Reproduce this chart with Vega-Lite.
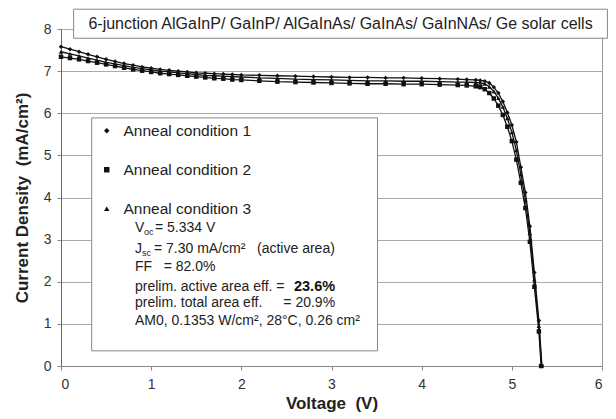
{
  "$schema": "https://vega.github.io/schema/vega-lite/v6.json",
  "width": 541,
  "height": 337,
  "autosize": {"type": "none"},
  "padding": {"left": 61, "top": 29, "right": 14, "bottom": 53},
  "background": "white",
  "config": {
    "view": {"stroke": "#999", "strokeWidth": 1},
    "font": "Liberation Sans",
    "axis": {
      "labelFont": "Liberation Sans",
      "labelFontSize": 14,
      "labelColor": "#333",
      "titleFont": "Liberation Sans",
      "titleFontSize": 17,
      "titleFontWeight": "bold",
      "titleColor": "#222",
      "domainColor": "#888",
      "tickColor": "#888",
      "tickSize": 4,
      "gridColor": "#aaa",
      "gridWidth": 1
    },
    "legend": {
      "labelFont": "Liberation Sans",
      "labelFontSize": 15.5,
      "labelColor": "#222"
    }
  },
  "datasets": {
    "iv": [
      {"c": "Anneal condition 1", "v": 0, "j": 7.58},
      {"c": "Anneal condition 1", "v": 0.1, "j": 7.52},
      {"c": "Anneal condition 1", "v": 0.2, "j": 7.46},
      {"c": "Anneal condition 1", "v": 0.3, "j": 7.40},
      {"c": "Anneal condition 1", "v": 0.4, "j": 7.34},
      {"c": "Anneal condition 1", "v": 0.5, "j": 7.28},
      {"c": "Anneal condition 1", "v": 0.6, "j": 7.23},
      {"c": "Anneal condition 1", "v": 0.7, "j": 7.18},
      {"c": "Anneal condition 1", "v": 0.8, "j": 7.14},
      {"c": "Anneal condition 1", "v": 0.9, "j": 7.10},
      {"c": "Anneal condition 1", "v": 1.0, "j": 7.07},
      {"c": "Anneal condition 1", "v": 1.1, "j": 7.04},
      {"c": "Anneal condition 1", "v": 1.2, "j": 7.02},
      {"c": "Anneal condition 1", "v": 1.3, "j": 7.00},
      {"c": "Anneal condition 1", "v": 1.4, "j": 6.98},
      {"c": "Anneal condition 1", "v": 1.5, "j": 6.96},
      {"c": "Anneal condition 1", "v": 1.6, "j": 6.95},
      {"c": "Anneal condition 1", "v": 1.7, "j": 6.94},
      {"c": "Anneal condition 1", "v": 1.8, "j": 6.93},
      {"c": "Anneal condition 1", "v": 1.9, "j": 6.92},
      {"c": "Anneal condition 1", "v": 2.0, "j": 6.91},
      {"c": "Anneal condition 1", "v": 2.2, "j": 6.90},
      {"c": "Anneal condition 1", "v": 2.4, "j": 6.89},
      {"c": "Anneal condition 1", "v": 2.6, "j": 6.88},
      {"c": "Anneal condition 1", "v": 2.8, "j": 6.87},
      {"c": "Anneal condition 1", "v": 3.0, "j": 6.86},
      {"c": "Anneal condition 1", "v": 3.2, "j": 6.85},
      {"c": "Anneal condition 1", "v": 3.4, "j": 6.85},
      {"c": "Anneal condition 1", "v": 3.6, "j": 6.84},
      {"c": "Anneal condition 1", "v": 3.8, "j": 6.84},
      {"c": "Anneal condition 1", "v": 4.0, "j": 6.83},
      {"c": "Anneal condition 1", "v": 4.2, "j": 6.82},
      {"c": "Anneal condition 1", "v": 4.4, "j": 6.81},
      {"c": "Anneal condition 1", "v": 4.5, "j": 6.80},
      {"c": "Anneal condition 1", "v": 4.6, "j": 6.79},
      {"c": "Anneal condition 1", "v": 4.65, "j": 6.78},
      {"c": "Anneal condition 1", "v": 4.7, "j": 6.76},
      {"c": "Anneal condition 1", "v": 4.75, "j": 6.72},
      {"c": "Anneal condition 1", "v": 4.8, "j": 6.62},
      {"c": "Anneal condition 1", "v": 4.85, "j": 6.48},
      {"c": "Anneal condition 1", "v": 4.9, "j": 6.28},
      {"c": "Anneal condition 1", "v": 4.95, "j": 6.02},
      {"c": "Anneal condition 1", "v": 5.0, "j": 5.72},
      {"c": "Anneal condition 1", "v": 5.05, "j": 5.32},
      {"c": "Anneal condition 1", "v": 5.1, "j": 4.72},
      {"c": "Anneal condition 1", "v": 5.15, "j": 4.12},
      {"c": "Anneal condition 1", "v": 5.2, "j": 3.32},
      {"c": "Anneal condition 1", "v": 5.25, "j": 2.22},
      {"c": "Anneal condition 1", "v": 5.3, "j": 1.08},
      {"c": "Anneal condition 1", "v": 5.334, "j": 0},
      {"c": "Anneal condition 2", "v": 0, "j": 7.34},
      {"c": "Anneal condition 2", "v": 0.1, "j": 7.31},
      {"c": "Anneal condition 2", "v": 0.2, "j": 7.28},
      {"c": "Anneal condition 2", "v": 0.3, "j": 7.24},
      {"c": "Anneal condition 2", "v": 0.4, "j": 7.20},
      {"c": "Anneal condition 2", "v": 0.5, "j": 7.16},
      {"c": "Anneal condition 2", "v": 0.6, "j": 7.12},
      {"c": "Anneal condition 2", "v": 0.7, "j": 7.08},
      {"c": "Anneal condition 2", "v": 0.8, "j": 7.04},
      {"c": "Anneal condition 2", "v": 0.9, "j": 7.01},
      {"c": "Anneal condition 2", "v": 1.0, "j": 6.98},
      {"c": "Anneal condition 2", "v": 1.1, "j": 6.95},
      {"c": "Anneal condition 2", "v": 1.2, "j": 6.93},
      {"c": "Anneal condition 2", "v": 1.3, "j": 6.91},
      {"c": "Anneal condition 2", "v": 1.4, "j": 6.89},
      {"c": "Anneal condition 2", "v": 1.5, "j": 6.87},
      {"c": "Anneal condition 2", "v": 1.6, "j": 6.85},
      {"c": "Anneal condition 2", "v": 1.7, "j": 6.83},
      {"c": "Anneal condition 2", "v": 1.8, "j": 6.82},
      {"c": "Anneal condition 2", "v": 1.9, "j": 6.80},
      {"c": "Anneal condition 2", "v": 2.0, "j": 6.79},
      {"c": "Anneal condition 2", "v": 2.2, "j": 6.77},
      {"c": "Anneal condition 2", "v": 2.4, "j": 6.75},
      {"c": "Anneal condition 2", "v": 2.6, "j": 6.74},
      {"c": "Anneal condition 2", "v": 2.8, "j": 6.73},
      {"c": "Anneal condition 2", "v": 3.0, "j": 6.72},
      {"c": "Anneal condition 2", "v": 3.2, "j": 6.71},
      {"c": "Anneal condition 2", "v": 3.4, "j": 6.70},
      {"c": "Anneal condition 2", "v": 3.6, "j": 6.70},
      {"c": "Anneal condition 2", "v": 3.8, "j": 6.69},
      {"c": "Anneal condition 2", "v": 4.0, "j": 6.69},
      {"c": "Anneal condition 2", "v": 4.2, "j": 6.68},
      {"c": "Anneal condition 2", "v": 4.4, "j": 6.67},
      {"c": "Anneal condition 2", "v": 4.5, "j": 6.66},
      {"c": "Anneal condition 2", "v": 4.6, "j": 6.64},
      {"c": "Anneal condition 2", "v": 4.65, "j": 6.62},
      {"c": "Anneal condition 2", "v": 4.7, "j": 6.57},
      {"c": "Anneal condition 2", "v": 4.75, "j": 6.48},
      {"c": "Anneal condition 2", "v": 4.8, "j": 6.35},
      {"c": "Anneal condition 2", "v": 4.85, "j": 6.18},
      {"c": "Anneal condition 2", "v": 4.9, "j": 5.96},
      {"c": "Anneal condition 2", "v": 4.95, "j": 5.68},
      {"c": "Anneal condition 2", "v": 5.0, "j": 5.34},
      {"c": "Anneal condition 2", "v": 5.05, "j": 4.90},
      {"c": "Anneal condition 2", "v": 5.1, "j": 4.35},
      {"c": "Anneal condition 2", "v": 5.15, "j": 3.75},
      {"c": "Anneal condition 2", "v": 5.2, "j": 2.95},
      {"c": "Anneal condition 2", "v": 5.25, "j": 1.88},
      {"c": "Anneal condition 2", "v": 5.3, "j": 0.82},
      {"c": "Anneal condition 2", "v": 5.325, "j": 0},
      {"c": "Anneal condition 3", "v": 0, "j": 7.46},
      {"c": "Anneal condition 3", "v": 0.1, "j": 7.41},
      {"c": "Anneal condition 3", "v": 0.2, "j": 7.36},
      {"c": "Anneal condition 3", "v": 0.3, "j": 7.31},
      {"c": "Anneal condition 3", "v": 0.4, "j": 7.26},
      {"c": "Anneal condition 3", "v": 0.5, "j": 7.21},
      {"c": "Anneal condition 3", "v": 0.6, "j": 7.17},
      {"c": "Anneal condition 3", "v": 0.7, "j": 7.13},
      {"c": "Anneal condition 3", "v": 0.8, "j": 7.09},
      {"c": "Anneal condition 3", "v": 0.9, "j": 7.06},
      {"c": "Anneal condition 3", "v": 1.0, "j": 7.03},
      {"c": "Anneal condition 3", "v": 1.1, "j": 7.00},
      {"c": "Anneal condition 3", "v": 1.2, "j": 6.98},
      {"c": "Anneal condition 3", "v": 1.3, "j": 6.96},
      {"c": "Anneal condition 3", "v": 1.4, "j": 6.94},
      {"c": "Anneal condition 3", "v": 1.5, "j": 6.92},
      {"c": "Anneal condition 3", "v": 1.6, "j": 6.90},
      {"c": "Anneal condition 3", "v": 1.7, "j": 6.89},
      {"c": "Anneal condition 3", "v": 1.8, "j": 6.88},
      {"c": "Anneal condition 3", "v": 1.9, "j": 6.87},
      {"c": "Anneal condition 3", "v": 2.0, "j": 6.86},
      {"c": "Anneal condition 3", "v": 2.2, "j": 6.84},
      {"c": "Anneal condition 3", "v": 2.4, "j": 6.83},
      {"c": "Anneal condition 3", "v": 2.6, "j": 6.81},
      {"c": "Anneal condition 3", "v": 2.8, "j": 6.80},
      {"c": "Anneal condition 3", "v": 3.0, "j": 6.79},
      {"c": "Anneal condition 3", "v": 3.2, "j": 6.78},
      {"c": "Anneal condition 3", "v": 3.4, "j": 6.77},
      {"c": "Anneal condition 3", "v": 3.6, "j": 6.77},
      {"c": "Anneal condition 3", "v": 3.8, "j": 6.76},
      {"c": "Anneal condition 3", "v": 4.0, "j": 6.76},
      {"c": "Anneal condition 3", "v": 4.2, "j": 6.75},
      {"c": "Anneal condition 3", "v": 4.4, "j": 6.74},
      {"c": "Anneal condition 3", "v": 4.5, "j": 6.74},
      {"c": "Anneal condition 3", "v": 4.6, "j": 6.73},
      {"c": "Anneal condition 3", "v": 4.65, "j": 6.72},
      {"c": "Anneal condition 3", "v": 4.7, "j": 6.70},
      {"c": "Anneal condition 3", "v": 4.75, "j": 6.63},
      {"c": "Anneal condition 3", "v": 4.8, "j": 6.52},
      {"c": "Anneal condition 3", "v": 4.85, "j": 6.36},
      {"c": "Anneal condition 3", "v": 4.9, "j": 6.15},
      {"c": "Anneal condition 3", "v": 4.95, "j": 5.88},
      {"c": "Anneal condition 3", "v": 5.0, "j": 5.55},
      {"c": "Anneal condition 3", "v": 5.05, "j": 5.12},
      {"c": "Anneal condition 3", "v": 5.1, "j": 4.55},
      {"c": "Anneal condition 3", "v": 5.15, "j": 3.95},
      {"c": "Anneal condition 3", "v": 5.2, "j": 3.15},
      {"c": "Anneal condition 3", "v": 5.25, "j": 2.05},
      {"c": "Anneal condition 3", "v": 5.3, "j": 0.95},
      {"c": "Anneal condition 3", "v": 5.33, "j": 0}
    ]
  },
  "layer": [
    {
      "data": {"values": [{"k": 1}]},
      "mark": {"type": "rect", "fill": "white", "stroke": "#888", "strokeWidth": 1},
      "encoding": {
        "x": {"datum": 0.14, "type": "quantitative", "scale": {"domain": [0, 6], "nice": false, "zero": false}, "axis": {"values": [0, 1, 2, 3, 4, 5, 6], "format": "d", "grid": false, "title": "Voltage\u00a0\u00a0(V)", "labelPadding": 7, "titlePadding": 4}},
        "x2": {"datum": 6.06},
        "y": {"datum": 8.47, "type": "quantitative", "scale": {"domain": [0, 8], "nice": false}, "axis": {"values": [0, 1, 2, 3, 4, 5, 6, 7, 8], "format": "d", "grid": true, "title": "Current Density\u00a0\u00a0(mA/cm²)", "labelPadding": 6, "titlePadding": 12, "domainColor": "#666"}},
        "y2": {"datum": 7.78}
      }
    },
    {
      "data": {"values": [{"k": 1}]},
      "mark": {"type": "text", "text": "6-junction AlGaInP/ GaInP/ AlGaInAs/ GaInAs/ GaInNAs/ Ge solar cells", "fontSize": 16, "font": "Liberation Sans", "color": "#222", "align": "center", "baseline": "middle"},
      "encoding": {
        "x": {"datum": 3.1, "type": "quantitative"},
        "y": {"datum": 8.13, "type": "quantitative"}
      }
    },
    {
      "data": {"values": [{"k": 1}]},
      "mark": {"type": "rect", "fill": "white", "stroke": "#888", "strokeWidth": 1},
      "encoding": {
        "x": {"datum": 0.34, "type": "quantitative"},
        "x2": {"datum": 3.51},
        "y": {"datum": 5.89, "type": "quantitative"},
        "y2": {"datum": 0.36}
      }
    },
    {
      "data": {"name": "iv"},
      "mark": {"type": "line", "color": "#111", "strokeWidth": 1.3},
      "encoding": {
        "x": {"field": "v", "type": "quantitative"},
        "y": {"field": "j", "type": "quantitative"},
        "detail": {"field": "c"}
      }
    },
    {
      "data": {"name": "iv"},
      "mark": {"type": "point", "filled": true, "color": "#111", "size": 20, "opacity": 1},
      "encoding": {
        "x": {"field": "v", "type": "quantitative"},
        "y": {"field": "j", "type": "quantitative"},
        "shape": {
          "field": "c", "type": "nominal",
          "scale": {"range": ["diamond", "square", "triangle-up"]},
          "legend": {"orient": "none", "legendX": 38, "legendY": 94, "title": null, "symbolSize": 30, "symbolFillColor": "#111", "symbolStrokeColor": "#111", "rowPadding": 22, "padding": 0, "labelOffset": 9}
        }
      }
    },
    {
      "data": {"values": [{"k": 1}]},
      "mark": {"type": "text", "align": "left", "baseline": "middle", "fontSize": 14, "color": "#222", "text": "V"},
      "encoding": {"x": {"datum": 0.82, "type": "quantitative"}, "y": {"datum": 3.27, "type": "quantitative"}}
    },
    {
      "data": {"values": [{"k": 1}]},
      "mark": {"type": "text", "align": "left", "baseline": "middle", "fontSize": 9, "color": "#222", "text": "oc", "dx": 9, "dy": 4},
      "encoding": {"x": {"datum": 0.82, "type": "quantitative"}, "y": {"datum": 3.27, "type": "quantitative"}}
    },
    {
      "data": {"values": [{"k": 1}]},
      "mark": {"type": "text", "align": "left", "baseline": "middle", "fontSize": 14, "color": "#222", "text": "= 5.334 V", "dx": 20},
      "encoding": {"x": {"datum": 0.82, "type": "quantitative"}, "y": {"datum": 3.27, "type": "quantitative"}}
    },
    {
      "data": {"values": [{"k": 1}]},
      "mark": {"type": "text", "align": "left", "baseline": "middle", "fontSize": 14, "color": "#222", "text": "J"},
      "encoding": {"x": {"datum": 0.82, "type": "quantitative"}, "y": {"datum": 2.78, "type": "quantitative"}}
    },
    {
      "data": {"values": [{"k": 1}]},
      "mark": {"type": "text", "align": "left", "baseline": "middle", "fontSize": 9, "color": "#222", "text": "sc", "dx": 7, "dy": 4},
      "encoding": {"x": {"datum": 0.82, "type": "quantitative"}, "y": {"datum": 2.78, "type": "quantitative"}}
    },
    {
      "data": {"values": [{"k": 1}]},
      "mark": {"type": "text", "align": "left", "baseline": "middle", "fontSize": 14, "color": "#222", "text": "= 7.30 mA/cm²\u00a0\u00a0\u00a0(active area)", "dx": 19},
      "encoding": {"x": {"datum": 0.82, "type": "quantitative"}, "y": {"datum": 2.78, "type": "quantitative"}}
    },
    {
      "data": {"values": [{"k": 1}]},
      "mark": {"type": "text", "align": "left", "baseline": "middle", "fontSize": 14, "color": "#222", "text": "FF\u00a0\u00a0\u00a0= 82.0%"},
      "encoding": {"x": {"datum": 0.82, "type": "quantitative"}, "y": {"datum": 2.35, "type": "quantitative"}}
    },
    {
      "data": {"values": [{"k": 1}]},
      "mark": {"type": "text", "align": "left", "baseline": "middle", "fontSize": 14, "color": "#222", "text": "prelim. active area eff. ="},
      "encoding": {"x": {"datum": 0.82, "type": "quantitative"}, "y": {"datum": 1.88, "type": "quantitative"}}
    },
    {
      "data": {"values": [{"k": 1}]},
      "mark": {"type": "text", "align": "right", "baseline": "middle", "fontSize": 14.5, "fontWeight": "bold", "color": "#111", "text": "23.6%"},
      "encoding": {"x": {"datum": 3.04, "type": "quantitative"}, "y": {"datum": 1.88, "type": "quantitative"}}
    },
    {
      "data": {"values": [{"k": 1}]},
      "mark": {"type": "text", "align": "left", "baseline": "middle", "fontSize": 14, "color": "#222", "text": "prelim. total area eff."},
      "encoding": {"x": {"datum": 0.82, "type": "quantitative"}, "y": {"datum": 1.50, "type": "quantitative"}}
    },
    {
      "data": {"values": [{"k": 1}]},
      "mark": {"type": "text", "align": "right", "baseline": "middle", "fontSize": 14, "color": "#222", "text": "= 20.9%"},
      "encoding": {"x": {"datum": 3.04, "type": "quantitative"}, "y": {"datum": 1.50, "type": "quantitative"}}
    },
    {
      "data": {"values": [{"k": 1}]},
      "mark": {"type": "text", "align": "left", "baseline": "middle", "fontSize": 14, "color": "#222", "text": "AM0, 0.1353 W/cm², 28°C, 0.26 cm²"},
      "encoding": {"x": {"datum": 0.82, "type": "quantitative"}, "y": {"datum": 1.07, "type": "quantitative"}}
    }
  ]
}
